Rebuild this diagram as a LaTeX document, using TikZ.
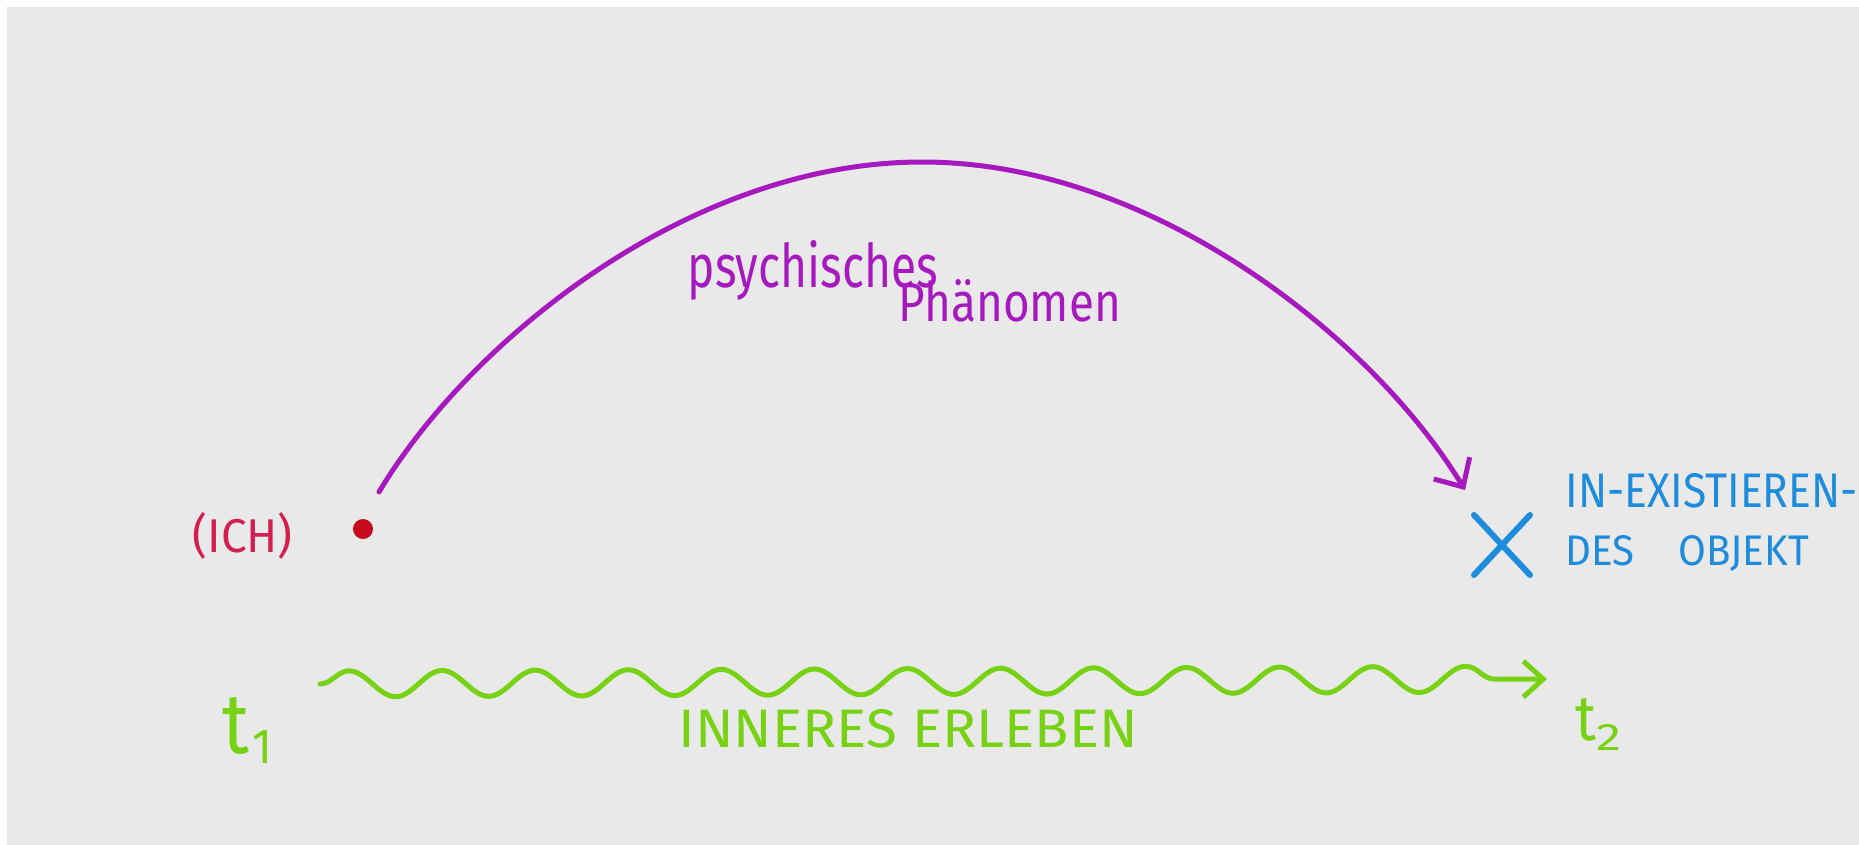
\documentclass[tikz,border=0pt]{standalone}
\usepackage{graphicx}
\usepackage{fontspec}
\setmainfont{Fira Sans}
\usetikzlibrary{arrows.meta,decorations.pathmorphing,shapes.misc}
\definecolor{paper}{RGB}{233,233,233}
\definecolor{phen}{RGB}{165,25,190}
\definecolor{dotred}{RGB}{200,10,30}
\definecolor{ichred}{RGB}{210,30,80}
\definecolor{objblue}{RGB}{30,140,220}
\definecolor{lifegreen}{RGB}{120,210,20}
\newcommand{\fitbox}[3]{\resizebox{#1}{#2}{#3}}
\begin{document}
\begin{tikzpicture}[x=0.01cm,y=-0.01cm,
  lbl/.style={inner sep=0pt, anchor=base west},
  arcline/.style={draw=phen, line width=0.05cm, line cap=round,
    -{Straight Barb[length=0.22cm,width=0.42cm,line width=0.05cm]}},
  wave/.style={draw=lifegreen, line width=0.05cm, line cap=round,
    decorate, decoration={snake, segment length=0.93cm, amplitude=0.13cm, post length=0.12cm},
    -{Straight Barb[length=0.2cm,width=0.36cm,line width=0.05cm]}}]
\fill[white] (0,0) rectangle (1859,845);
\fill[paper] (7,7) rectangle (1859,845);
\useasboundingbox (0,0) rectangle (1859,845);

% subject (ICH)
\node (ich) [circle, fill=dotred, inner sep=0pt, minimum size=0.2cm] at (363,529) {};
\node (ichlbl) [lbl, text=ichred] at (192,552) {\fitbox{1.0cm}{0.4cm}{(ICH)}};

% object
\node (obj) [cross out, draw=objblue, line width=0.06cm, line cap=round, inner sep=0pt,
  minimum width=0.5cm, minimum height=0.54cm] at (1502,545) {};
\node (objl1) [lbl, text=objblue] at (1565,507) {\fitbox{2.92cm}{0.34cm}{IN-EXISTIEREN-}};
\node (objl2) [lbl, text=objblue] at (1565,565) {\fitbox{2.43cm}{0.30cm}{DES\hspace{1.1em}OBJEKT}};

% psychic phenomenon arc
\coordinate (arcS) at (379,492);
\coordinate (arcTop) at (922,162);
\coordinate (arcE) at (1465,490);
\draw[arcline] (arcS) .. controls (470,340) and (690,162) .. (arcTop)
  .. controls (1154,162) and (1374,340) .. (arcE);
\node (ph1) [lbl, text=phen] at (687,287) {\fitbox{2.5cm}{0.47cm}{psychisches}};
\node (ph2) [lbl, text=phen] at (898,321) {\fitbox{2.22cm}{0.42cm}{Phänomen}};

% inner experience
\coordinate (ws) at (320,684);
\coordinate (we) at (1547,679);
\draw[wave] (ws) -- (we);
\node (t1) [lbl, text=lifegreen] at (222,753)
  {\fitbox{0.27cm}{0.56cm}{t}\hspace{0.03cm}\raisebox{-0.1cm}{\fitbox{0.2cm}{0.33cm}{1}}};
\node (t2) [lbl, text=lifegreen] at (1575,740)
  {\fitbox{0.21cm}{0.42cm}{t}\raisebox{-0.1cm}{\fitbox{0.25cm}{0.26cm}{2}}};
\node (erl) [lbl, text=lifegreen] at (678,747) {\fitbox{4.59cm}{0.38cm}{INNERES ERLEBEN}};
\end{tikzpicture}
\end{document}
